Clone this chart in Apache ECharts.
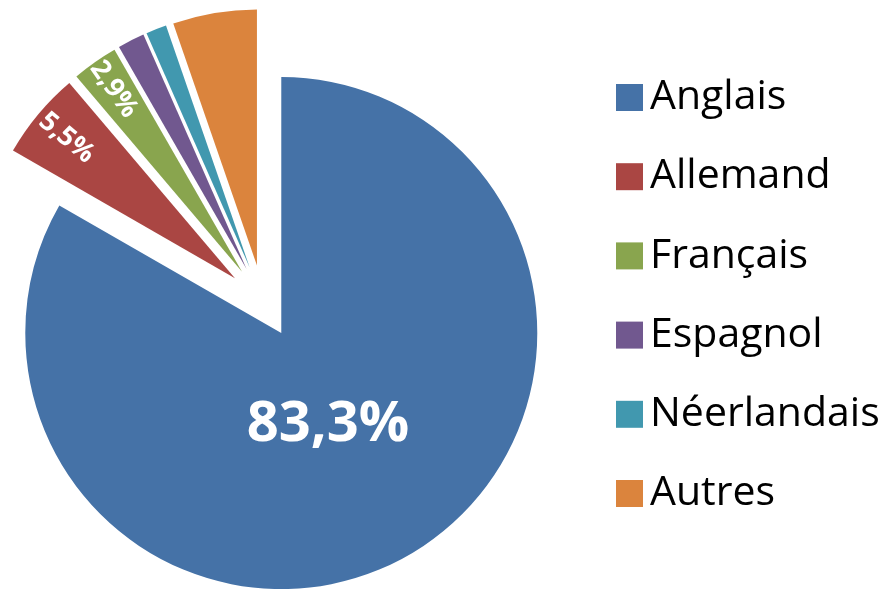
<!DOCTYPE html>
<html>
<head>
<meta charset="utf-8">
<script src="https://cdn.jsdelivr.net/npm/echarts@6/dist/echarts.min.js"></script>
<style>
  html, body { margin: 0; padding: 0; background: #fff; }
  #chart { width: 887px; height: 589px; }
</style>
</head>
<body>
<div id="chart"></div>
<script>
// langues (en %)
const names = ['Anglais', 'Allemand', 'Français', 'Espagnol', 'Néerlandais', 'Autres']
const values = [83.3, 5.5, 2.9, 1.7, 1.3, 5.3]
const colors = ['#4572A7', '#AA4643', '#89A54E', '#71588F', '#4198AF', '#DB843D']

const font = '"Open Sans", "Noto Sans", sans-serif'

function pct(v){
  return v.toFixed(1).replace('.', ',') + '%'
}

function labelFor(name){
  if (name === 'Anglais') {
    // ligne vide en dessous pour remonter le texte
    return { show: true, position: 'inside', fontSize: 56, lineHeight: 42, padding: [0, 38, 0, 0],
      formatter: p => pct(p.value) + '\n ' }
  }
  if (name === 'Allemand') {
    return { show: true, position: 'inside', rotate: 'radial', fontSize: 27, padding: [0, 176, 0, 0] }
  }
  if (name === 'Français') {
    return { show: true, position: 'inside', rotate: 'radial', fontSize: 27, padding: [0, 184, 0, 0] }
  }
  return { show: false }
}

const data = names.map((n, i) => ({
  name: n,
  value: values[i],
  selected: true,
  itemStyle: { color: colors[i] },
  label: labelFor(n)
}))

const chart = echarts.init(document.getElementById('chart'))
chart.setOption({
  animation: false,
  legend: {
    orient: 'vertical',
    left: 611,
    top: 72,
    icon: 'rect',
    itemWidth: 27,
    itemHeight: 27,
    itemGap: 38.2,
    selectedMode: false,
    textStyle: {
      fontFamily: font,
      fontSize: 41,
      lineHeight: 40,
      color: '#000',
      padding: [0, 0, 0, 2]
    },
    data: names
  },
  series: [{
    type: 'pie',
    center: [263, 301.5],
    radius: 256,
    startAngle: 90,
    clockwise: true,
    selectedMode: 'multiple',
    selectedOffset: 36.5,
    avoidLabelOverlap: false,
    silent: true,
    label: {
      color: '#fff',
      fontFamily: font,
      fontWeight: 'bold',
      formatter: p => pct(p.value)
    },
    labelLine: { show: false },
    itemStyle: { borderWidth: 0 },
    select: { itemStyle: { borderWidth: 0 } },
    emphasis: { disabled: true },
    data: data
  }]
})
</script>
</body>
</html>
